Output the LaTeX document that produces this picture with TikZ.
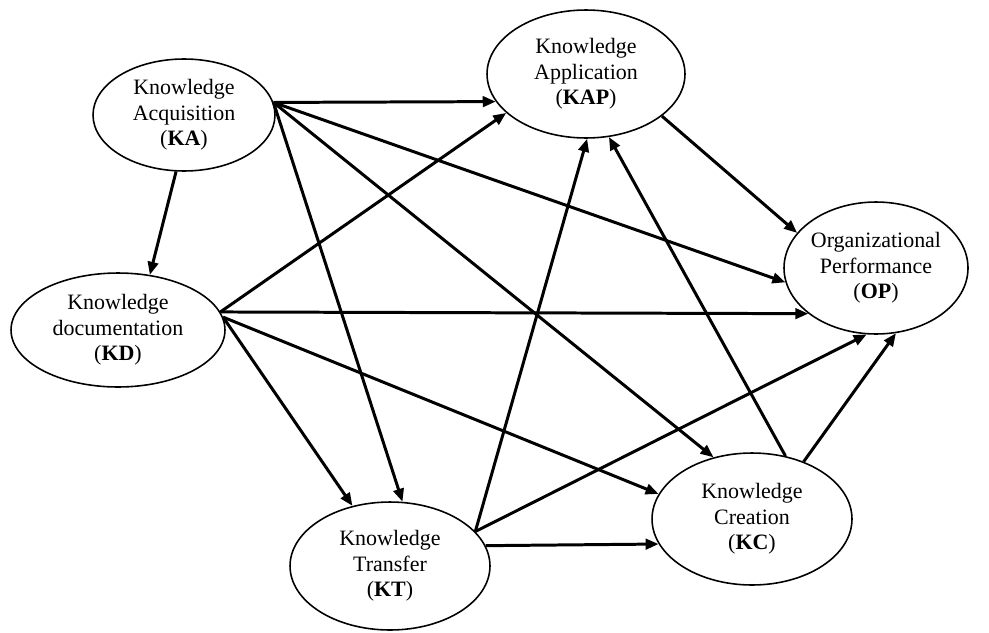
\documentclass[tikz,border=0pt]{standalone}
\usepackage{fontspec}
\setmainfont{Liberation Serif}
\usetikzlibrary{shapes.geometric, arrows.meta}

\begin{document}
\begin{tikzpicture}[x=0.02cm, y=-0.02cm,
  km/.style={ellipse, draw, line width=0.9pt, inner sep=0pt, align=center,
    font=\fontsize{12.5}{14.4}\selectfont},
  link/.style={line width=1.7pt, -{Triangle[length=0.26cm, width=0.21cm]}}]
\useasboundingbox (0,0) rectangle (989,632);

% Knowledge processes
\node[km, minimum width=3.64cm, minimum height=2.24cm] (KA) at (184,115) {Knowledge\\Acquisition\\(\textbf{KA})};
\node[km, minimum width=3.96cm, minimum height=2.56cm] (KAP) at (586,74) {Knowledge\\Application\\(\textbf{KAP})};
\node[km, minimum width=4.28cm, minimum height=2.28cm] (KD) at (118,330) {Knowledge\\documentation\\(\textbf{KD})};
\node[km, minimum width=4.0cm, minimum height=2.56cm] (KT) at (390,566) {Knowledge\\Transfer\\(\textbf{KT})};
\node[km, minimum width=4.0cm, minimum height=2.64cm] (KC) at (752,519) {Knowledge\\Creation\\(\textbf{KC})};

% Outcome
\node[km, minimum width=3.64cm, minimum height=2.64cm] (OP) at (876,268) {Organizational\\Performance\\(\textbf{OP})};

% Paths between the constructs
\foreach \a/\b in {KA.8/KAP.197, KA.8/OP.189, KA.8/KC.122, KA.8/KT.79, KA.262/KD.60,
                   KD.10/KAP.206, KD.10/OP.214, KD.7/KT.122, KD.7/KC.165,
                   KT.22/KAP.271, KT.22/OP.262, KT.12/KC.195,
                   KC.62/KAP.290, KC.48/OP.287, KAP.-29/OP.156}
  \draw[link] (\a) -- (\b);
\end{tikzpicture}
\end{document}
